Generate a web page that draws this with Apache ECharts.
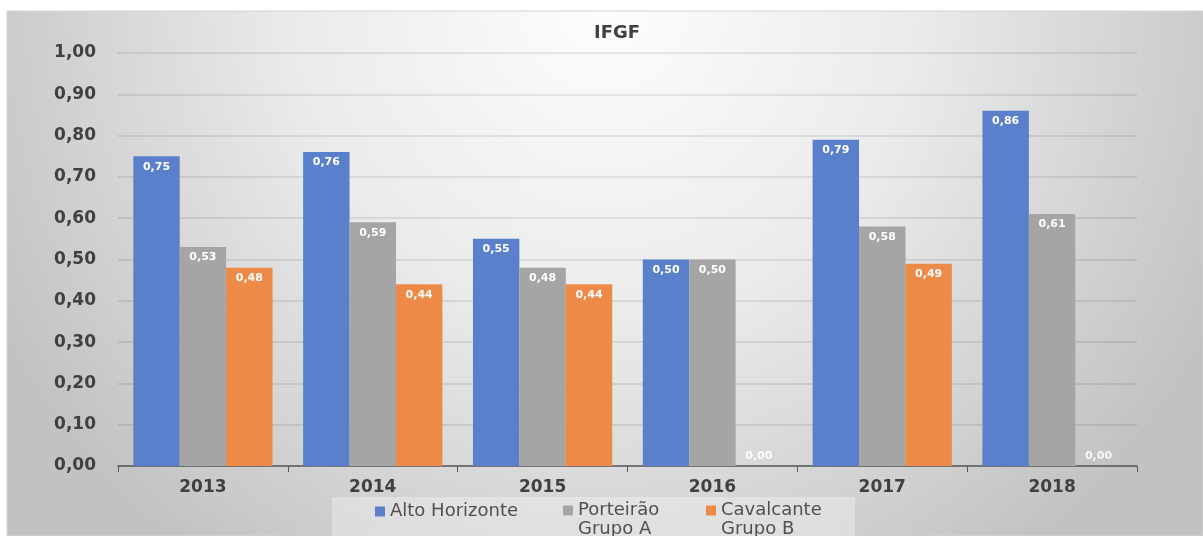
<!DOCTYPE html>
<html>
<head>
<meta charset="utf-8">
<script src="https://cdn.jsdelivr.net/npm/echarts@6/dist/echarts.min.js"></script>
<style>
  html, body { margin: 0; padding: 0; background: #fff; }
  #mainCanvas { width: 1203px; height: 536px; }
</style>
</head>
<body>
<div id="mainCanvas"></div>
<script>
var myChart = echarts.init(document.getElementById("mainCanvas"));

var years = ["2013", "2014", "2015", "2016", "2017", "2018"];
var altoHorizonte = [0.75, 0.76, 0.55, 0.50, 0.79, 0.86];
var porteirao = [0.53, 0.59, 0.48, 0.50, 0.58, 0.61];
var cavalcante = [0.48, 0.44, 0.44, 0.00, 0.49, 0.00];
var yTicks = [0, 0.1, 0.2, 0.3, 0.4, 0.5, 0.6, 0.7, 0.8, 0.9, 1.0];

var names = ["Alto Horizonte", "Porteirão\nGrupo A", "Cavalcante\nGrupo B"];
var colors = ["#5a80cb", "#a5a5a5", "#ee8a48"];

function fmt(v) {
    return Number(v).toFixed(2).replace('.', ',');
}

// zero bars get their label above the axis
function toItems(arr) {
    return arr.map(function (v) {
        if (v === 0) {
            return { value: v, label: { position: 'top', distance: 4, color: 'rgba(255,255,255,0.9)' } };
        }
        return v;
    });
}

function makeSeries(name, arr, color) {
    return {
        name: name,
        type: 'bar',
        barGap: 0,
        barCategoryGap: '18%',
        itemStyle: { color: color },
        label: {
            show: true,
            position: 'insideTop',
            distance: 5,
            color: '#ffffff',
            fontFamily: 'DejaVu Sans',
            fontWeight: 'bold',
            fontSize: 11,
            formatter: function (p) { return fmt(p.value); }
        },
        data: toItems(arr)
    };
}

var legendText = { color: '#505050', fontFamily: 'DejaVu Sans', fontSize: 18, lineHeight: 19 };

// blank first line keeps the icon level with the first text line
function twoLine(name) {
    return ' \n' + name;
}

var option = {
    animation: false,
    title: {
        text: 'IFGF',
        left: 612,
        textAlign: 'center',
        top: 19,
        textStyle: { color: '#404040', fontFamily: 'DejaVu Sans', fontWeight: 'bold', fontSize: 18 }
    },
    graphic: [
        {
            type: 'rect',
            z: -10,
            shape: { x: 7, y: 11, width: 1196, height: 525 },
            style: {
                fill: new echarts.graphic.RadialGradient(0.5, 0, 1.3, [
                    { offset: 0, color: '#fdfdfd' },
                    { offset: 0.45, color: '#ebebeb' },
                    { offset: 1, color: '#c2c2c2' }
                ]),
                stroke: '#d4d4d4',
                lineWidth: 1
            }
        },
        {
            type: 'rect',
            z: -9,
            shape: { x: 332, y: 497, width: 523, height: 39 },
            style: { fill: 'rgba(255,255,255,0.3)' }
        }
    ],
    legend: [
        {
            data: [names[0]],
            left: 370,
            top: 497,
            icon: 'rect',
            itemWidth: 10,
            itemHeight: 10,
            textStyle: legendText
        },
        {
            data: [names[1]],
            left: 558,
            top: 477,
            icon: 'rect',
            itemWidth: 10,
            itemHeight: 10,
            formatter: twoLine,
            textStyle: legendText
        },
        {
            data: [names[2]],
            left: 701,
            top: 477,
            icon: 'rect',
            itemWidth: 10,
            itemHeight: 10,
            formatter: twoLine,
            textStyle: legendText
        }
    ],
    grid: { left: 118, right: 66, top: 53, bottom: 70 },
    xAxis: {
        type: 'category',
        data: years,
        axisLine: { lineStyle: { color: '#595959', width: 1.5 } },
        axisTick: { show: true, length: 6, lineStyle: { color: '#595959' } },
        axisLabel: {
            margin: 13,
            color: '#404040',
            fontFamily: 'DejaVu Sans',
            fontWeight: 'bold',
            fontSize: 17
        }
    },
    yAxis: {
        type: 'value',
        min: yTicks[0],
        max: yTicks[yTicks.length - 1],
        interval: 0.1,
        axisLine: { show: false },
        axisTick: { show: false },
        splitLine: { lineStyle: { color: 'rgba(0,0,0,0.11)', width: 1.5 } },
        axisLabel: {
            margin: 22,
            color: '#404040',
            fontFamily: 'DejaVu Sans',
            fontWeight: 'bold',
            fontSize: 17,
            formatter: fmt
        }
    },
    series: [
        makeSeries(names[0], altoHorizonte, colors[0]),
        makeSeries(names[1], porteirao, colors[1]),
        makeSeries(names[2], cavalcante, colors[2])
    ]
};

myChart.setOption(option);
</script>
</body>
</html>
